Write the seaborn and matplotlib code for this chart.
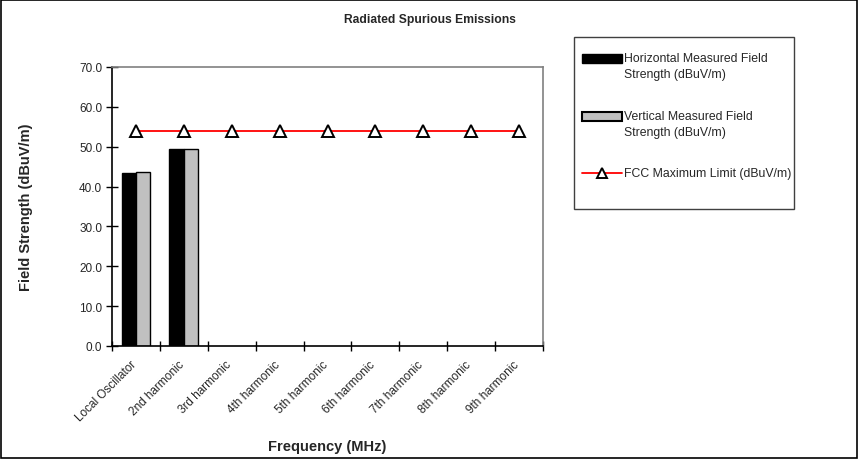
import matplotlib
matplotlib.use("Agg")
import matplotlib.pyplot as plt
import matplotlib.transforms as mtransforms
import seaborn as sns
import pandas as pd
import numpy as np
from matplotlib.patches import Rectangle
from matplotlib.lines import Line2D

categories = ["Local Oscillator", "2nd harmonic", "3rd harmonic", "4th harmonic",
              "5th harmonic", "6th harmonic", "7th harmonic", "8th harmonic", "9th harmonic"]
horizontal = [43.4, 49.4, np.nan, np.nan, np.nan, np.nan, np.nan, np.nan, np.nan]
vertical = [43.6, 49.4, np.nan, np.nan, np.nan, np.nan, np.nan, np.nan, np.nan]
fcc_limit = [54.0] * 9
yticks = [0.0, 10.0, 20.0, 30.0, 40.0, 50.0, 60.0, 70.0]

h_name = "Horizontal Measured Field\nStrength (dBuV/m)"
v_name = "Vertical Measured Field\nStrength (dBuV/m)"
l_name = "FCC Maximum Limit (dBuV/m)"

sns.set_style("white")
plt.rcParams["font.family"] = ["Liberation Sans", "DejaVu Sans"]

df = pd.DataFrame({
    "cat": categories * 2,
    "val": horizontal + vertical,
    "series": [h_name] * 9 + [v_name] * 9,
})

W, H = 858, 460
fig = plt.figure(figsize=(W / 100, H / 100), dpi=100)
ax = fig.add_axes([112 / W, 1 - 347 / H, 431 / W, 279 / H])

sns.barplot(data=df, x="cat", y="val", hue="series", order=categories,
            palette=["#000000", "#c0c0c0"], width=0.6, edgecolor="black",
            linewidth=1.0, ax=ax, legend=False)

sns.lineplot(x=np.arange(9), y=fcc_limit, ax=ax, color="#ff0000", linewidth=1.3,
             marker="^", markersize=8, markerfacecolor="white", markeredgecolor="black",
             markeredgewidth=1.4, legend=False)

ax.set_xlim(-0.5, 8.5)
ax.set_ylim(0, 70)
ax.set_yticks(yticks)
ax.set_yticklabels([f"{v:.1f}" for v in yticks], fontsize=8.5)
ax.set_xticks(np.arange(9))
ax.set_xticklabels(categories, rotation=45, ha="right", rotation_mode="anchor", fontsize=8.5)
ax.tick_params(axis="x", which="major", length=0, pad=8)
ax.set_xticks(np.arange(-0.5, 9.0, 1.0), minor=True)
ax.tick_params(axis="x", which="minor", length=7, direction="inout", width=1, color="black")
ax.tick_params(axis="y", length=8, direction="inout", width=1, color="black", pad=3)
ax.tick_params(left=True, bottom=True, which="both")
shift = mtransforms.ScaledTranslation(-6 / 100, -1 / 100, fig.dpi_scale_trans)
for lab in ax.get_xticklabels():
    lab.set_transform(lab.get_transform() + shift)

for s in ["left", "bottom"]:
    ax.spines[s].set_color("black")
    ax.spines[s].set_linewidth(1.2)
for s in ["top", "right"]:
    ax.spines[s].set_visible(True)
    ax.spines[s].set_color("#808080")
    ax.spines[s].set_linewidth(1.2)

ax.set_xlabel("Frequency (MHz)", fontsize=10.5, fontweight="bold", labelpad=11)
ax.set_ylabel("Field Strength (dBuV/m)", fontsize=10.5, fontweight="bold")
ax.yaxis.set_label_coords((33 - 112) / 431, 0.5)
fig.text(430 / W, 1 - 20 / H, "Radiated Spurious Emissions", ha="center", va="center",
         fontsize=8.7, fontweight="bold")

# legend drawn in figure pixel coordinates (y measured from top)
def fx(x):
    return x / W

def fy(y):
    return 1 - y / H

fig.patches.append(Rectangle((fx(574), fy(210)), fx(794) - fx(574), fy(38) - fy(210),
                             transform=fig.transFigure, fill=True, facecolor="white",
                             edgecolor="#404040", linewidth=1.0, zorder=5))
fig.patches.append(Rectangle((fx(582), fy(63.5)), fx(40), 9 / H, transform=fig.transFigure,
                             facecolor="black", edgecolor="black", linewidth=1.0, zorder=6))
fig.patches.append(Rectangle((fx(582), fy(121.5)), fx(40), 9 / H, transform=fig.transFigure,
                             facecolor="#c0c0c0", edgecolor="black", linewidth=1.5, zorder=6))
fig.lines.append(Line2D([fx(582), fx(622)], [fy(174), fy(174)], transform=fig.transFigure,
                        color="#ff0000", linewidth=1.3, zorder=6))
fig.lines.append(Line2D([fx(602)], [fy(174)], transform=fig.transFigure, marker="^",
                        markersize=6.5, markerfacecolor="white", markeredgecolor="black",
                        markeredgewidth=1.4, linestyle="none", zorder=7))
for yy, lab in [(59, h_name), (117, v_name), (174, l_name)]:
    fig.text(fx(624), fy(yy), lab.split("\n")[0], ha="left", va="center", fontsize=8.8, zorder=7)
    if "\n" in lab:
        fig.text(fx(624), fy(yy + 16), lab.split("\n")[1], ha="left", va="center",
                 fontsize=8.8, zorder=7)

# figure border
fig.patches.append(Rectangle((0.001, 0.002), 0.998, 0.996, transform=fig.transFigure,
                             fill=False, edgecolor="black", linewidth=1.2))

fig.savefig("out.png", dpi=100)
